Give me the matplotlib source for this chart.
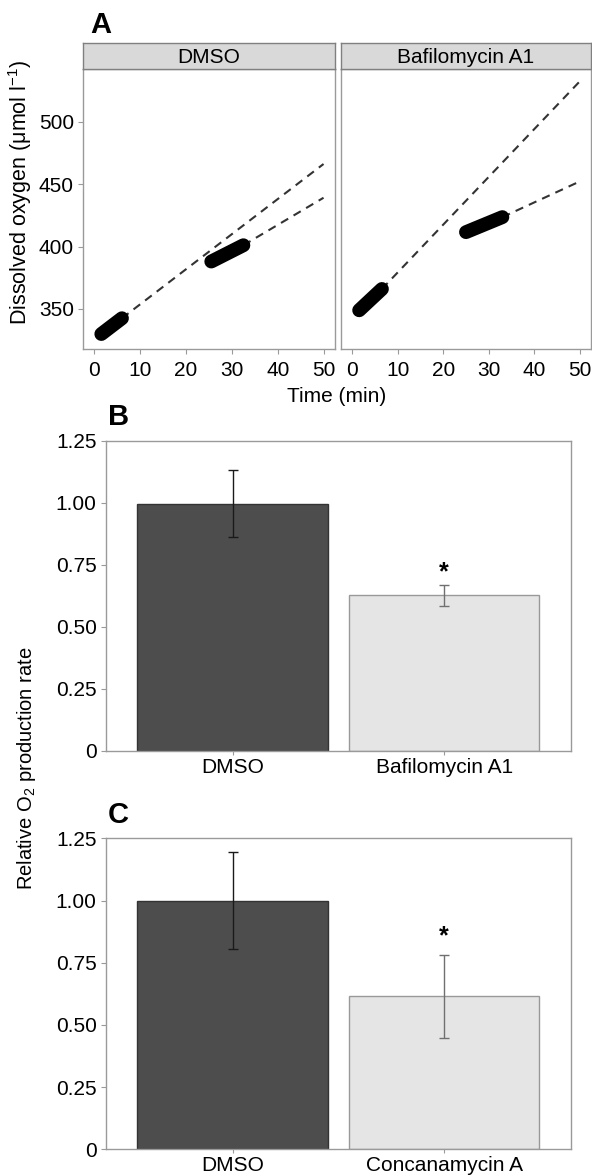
import matplotlib
matplotlib.use("Agg")
import matplotlib.pyplot as plt

plt.rcParams["font.family"] = ["Liberation Sans", "DejaVu Sans"]
plt.rcParams["mathtext.fontset"] = "custom"
plt.rcParams["mathtext.rm"] = "Liberation Sans"

# =========================
# Panel A data (oxygen traces)
# =========================
panels_a = ["DMSO", "Bafilomycin A1"]

# measured segments: start/end of each dense trace
dmso_early_t = [1.5, 6.0]
dmso_early_o2 = [330, 342.6]
dmso_late_t = [25.5, 32.5]
dmso_late_o2 = [388, 401]
# dashed linear fits, extended to 50 min
dmso_fit1_t = [6.0, 50]
dmso_fit1_o2 = [342.6, 466]
dmso_fit2_t = [32.5, 50]
dmso_fit2_o2 = [401, 439]

baf_early_t = [1.5, 6.5]
baf_early_o2 = [349, 366]
baf_late_t = [25, 33]
baf_late_o2 = [411.5, 423.5]
baf_fit1_t = [6.5, 50]
baf_fit1_o2 = [366, 532]
baf_fit2_t = [33, 50]
baf_fit2_o2 = [423.5, 452]

time_ticks = [0, 10, 20, 30, 40, 50]
o2_ticks = [350, 400, 450, 500]

# =========================
# Panels B & C data (relative O2 production rate)
# =========================
b_labels = ["DMSO", "Bafilomycin A1"]
b_means = [0.995, 0.628]
b_err_low = [0.863, 0.585]
b_err_high = [1.131, 0.668]
b_star_y = 0.742

c_labels = ["DMSO", "Concanamycin A"]
c_means = [1.0, 0.616]
c_err_low = [0.805, 0.448]
c_err_high = [1.196, 0.782]
c_star_y = 0.881

rate_ticks = [0, 0.25, 0.5, 0.75, 1.0, 1.25]
rate_ticklabels = ["0", "0.25", "0.50", "0.75", "1.00", "1.25"]

W, H = 592, 1175
fig = plt.figure(figsize=(W / 100, H / 100), dpi=100)

GRID = "#9a9a9a"
FS = 15


def px_axes(l, t, r, b):
    return fig.add_axes([l / W, 1 - b / H, (r - l) / W, (b - t) / H])


def style_box(ax):
    for s in ax.spines.values():
        s.set_color(GRID)
        s.set_linewidth(1.0)
    ax.tick_params(colors=GRID, labelcolor="black", labelsize=FS,
                   length=3.5, width=0.8, pad=3)


# ---- Panel A
a_sets = [
    (dmso_early_t, dmso_early_o2, dmso_late_t, dmso_late_o2,
     dmso_fit1_t, dmso_fit1_o2, dmso_fit2_t, dmso_fit2_o2),
    (baf_early_t, baf_early_o2, baf_late_t, baf_late_o2,
     baf_fit1_t, baf_fit1_o2, baf_fit2_t, baf_fit2_o2),
]
a_lefts = [(83, 335), (341, 591)]
for name, (l, r), d in zip(panels_a, a_lefts, a_sets):
    ax = px_axes(l, 69, r, 349)
    style_box(ax)
    e_t, e_o, la_t, la_o, f1_t, f1_o, f2_t, f2_o = d
    ax.plot(f1_t, f1_o, ls=(0, (4, 3)), color="#333333", lw=1.5)
    ax.plot(f2_t, f2_o, ls=(0, (4, 3)), color="#333333", lw=1.5)
    ax.plot(e_t, e_o, color="black", lw=10, solid_capstyle="round")
    ax.plot(la_t, la_o, color="black", lw=10, solid_capstyle="round")
    ax.set_xlim(-2.5, 52.5)
    ax.set_ylim(318, 542)
    ax.set_xticks(time_ticks)
    ax.set_yticks(o2_ticks)
    if l > 100:
        ax.tick_params(axis="y", left=False, labelleft=False)
    ax.tick_params(axis="x", pad=5)

    strip = px_axes(l, 43, r, 69)
    strip.set_facecolor("#d9d9d9")
    strip.set_xticks([])
    strip.set_yticks([])
    for s in strip.spines.values():
        s.set_color("#808080")
        s.set_linewidth(1.0)
    strip.text(0.5, 0.45, name, ha="center", va="center", fontsize=FS,
               transform=strip.transAxes)

fig.text(337 / W, 1 - 397 / H, "Time (min)", ha="center", va="center", fontsize=FS)
fig.text(20 / W, 1 - 192 / H,
         "Dissolved oxygen (μmol l$^{\\mathregular{\u22121}}$)",
         rotation=90, ha="center", va="center", fontsize=15.5)


# ---- Panels B and C
def bar_panel(t, b, labels, means, lo, hi, star_y):
    ax = px_axes(105.7, t, 571, b)
    style_box(ax)
    x = [1, 2]
    ax.bar(x, means, width=0.9, color=["#4d4d4d", "#e5e5e5"],
           edgecolor=["#333333", "#999999"], linewidth=1.0, zorder=2)
    err_colors = ["#1a1a1a", "#707070"]
    for xi, m, l_, h_, c in zip(x, means, lo, hi, err_colors):
        ax.errorbar(xi, m, yerr=[[m - l_], [h_ - m]], fmt="none", ecolor=c,
                    elinewidth=1.0, capsize=3.6, capthick=1.0, zorder=3)
    # "*" ink sits above the text centre, so nudge it down a little
    ax.text(2, star_y - 0.023, "*", ha="center", va="center", fontsize=18,
            fontweight="bold")
    ax.set_xlim(0.4, 2.6)
    ax.set_ylim(0, 1.25)
    ax.set_xticks(x)
    ax.set_xticklabels(labels)
    ax.set_yticks(rate_ticks)
    ax.set_yticklabels(rate_ticklabels)
    ax.tick_params(axis="x", length=3, pad=2)
    return ax


bar_panel(440.7, 751, b_labels, b_means, b_err_low, b_err_high, b_star_y)
bar_panel(838.3, 1149.3, c_labels, c_means, c_err_low, c_err_high, c_star_y)

fig.text(27 / W, 1 - 768 / H, "Relative O$_{\\mathregular{2}}$ production rate",
         rotation=90, ha="center", va="center", fontsize=14.5)

# panel letters
for letter, x0, y0 in [("A", 90, 33), ("B", 108, 425), ("C", 108, 823)]:
    fig.text(x0 / W, 1 - y0 / H, letter, ha="left", va="baseline",
             fontsize=21, fontweight="bold")

fig.savefig("out.png", dpi=100)
